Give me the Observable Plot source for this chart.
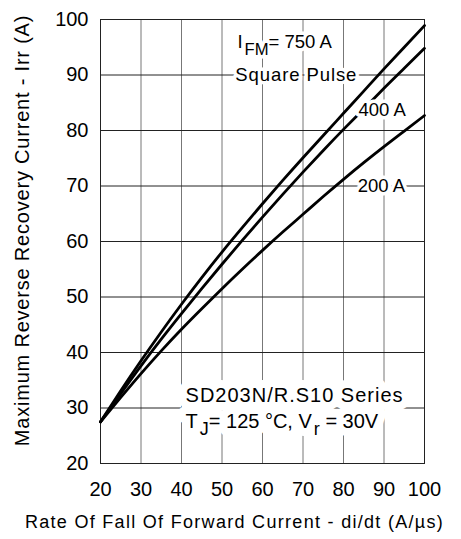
<!DOCTYPE html>
<html><head><meta charset="utf-8">
<script src="https://cdn.jsdelivr.net/npm/d3@7"></script>
<script src="https://cdn.jsdelivr.net/npm/@observablehq/plot@0.6"></script>
<style>
body{margin:0;background:#fff;}
#chart svg{display:block;}
</style></head><body><div id="chart"></div>
<script>
// ---- data ----
const xTicks = [20, 30, 40, 50, 60, 70, 80, 90, 100];
const yTicks = [20, 30, 40, 50, 60, 70, 80, 90, 100];
const diDt   = [20, 25, 30, 35, 40, 45, 50, 55, 60, 65, 70, 75, 80, 85, 90, 95, 100];
const irr750 = [27.5, 33.1, 38.5, 43.7, 48.7, 53.5, 58.1, 62.5, 66.8, 71.0, 75.1, 79.1, 83.1, 87.1, 91.1, 95.0, 98.9];
const irr400 = [27.5, 32.6, 37.6, 42.4, 47.0, 51.5, 55.9, 60.2, 64.4, 68.5, 72.5, 76.4, 80.2, 83.9, 87.6, 91.2, 94.8];
const irr200 = [27.5, 31.9, 36.2, 40.3, 44.2, 47.9, 51.5, 55.0, 58.4, 61.7, 64.9, 68.1, 71.2, 74.2, 77.1, 79.9, 82.7];
const seriesNames = ["750 A", "400 A", "200 A"];
const xTitle = "Rate Of Fall Of Forward Current - di/dt (A/\u00b5s)";
const yTitle = "Maximum Reverse Recovery Current - Irr (A)";
const curveLabels = [
  {text: "IFM= 750 A", x: 53.8, y: 96.0},
  {text: "Square Pulse", x: 53.3, y: 90},
  {text: "400 A", x: 83.7, y: 83.6},
  {text: "200 A", x: 83.5, y: 70}
];
const noteLabels = [
  {text: "SD203N/R.S10 Series", x: 41.0, y: 32.2},
  {text: "TJ= 125 \u00b0C, Vr = 30V", x: 41.0, y: 27.6}
];
// rich-text (subscript) definitions
const richText = {
  "IFM= 750 A": [["I", 0], ["FM", 1], ["= 750 A", 0]],
  "TJ= 125 \u00b0C, Vr = 30V": [["T", 0], ["J", 1], ["= 125 \u00b0C, V", 0], ["r", 1], [" = 30V", 0]]
};

const series = [irr750, irr400, irr200];
const table = [];
series.forEach((vals, si) => vals.forEach((v, i) => table.push({x: diDt[i], y: v, series: seriesNames[si]})));

const font = "'Liberation Sans', Arial, Helvetica, sans-serif";
const lblOpts = {x: "x", y: "y", text: "text", textAnchor: "start"};

const plot = Plot.plot({
  width: 461, height: 539,
  marginLeft: 100, marginRight: 37, marginTop: 19, marginBottom: 76,
  style: {fontFamily: font, background: "white", color: "black"},
  x: {domain: [20, 100]},
  y: {domain: [20, 100]},
  marks: [
    Plot.gridX(xTicks, {stroke: "#777", strokeOpacity: 1, strokeWidth: 1}),
    Plot.gridY(yTicks, {stroke: "#222", strokeOpacity: 1, strokeWidth: 1}),
    Plot.frame({stroke: "#222"}),
    Plot.axisX(xTicks, {tickSize: 0, tickPadding: 18, fontSize: 20, label: null}),
    Plot.axisY(yTicks, {tickSize: 0, tickPadding: 12, fontSize: 20, label: null}),
    Plot.line(table, {x: "x", y: "y", z: "series", stroke: "black", strokeWidth: 2.8, curve: "natural"}),
    // halos (white backgrounds) first, then the text itself
    Plot.text(curveLabels, {...lblOpts, fontSize: 18.5, fill: "white", stroke: "white", strokeWidth: 7}),
    Plot.text(noteLabels, {...lblOpts, fontSize: 20, fill: "white", stroke: "white", strokeWidth: 16}),
    Plot.text(curveLabels, {...lblOpts, fontSize: 18.5, fill: "black"}),
    Plot.text(noteLabels, {...lblOpts, fontSize: 20, fill: "black"}),
    Plot.text([xTitle], {frameAnchor: "bottom", textAnchor: "middle", dy: 64, dx: -28, fontSize: 18, fill: "black"}),
    Plot.text([yTitle], {frameAnchor: "left", textAnchor: "middle", dx: -78, dy: -11, rotate: -90, fontSize: 20, fill: "black"})
  ]
});

document.getElementById("chart").appendChild(plot);

// post-process: subscripts and letter spacing
d3.select(plot).selectAll("text").each(function() {
  const t = this.textContent;
  const sel = d3.select(this);
  if (richText[t]) {
    const parts = richText[t];
    this.textContent = "";
    let shifted = false;
    parts.forEach(([s, sub]) => {
      const ts = sel.append("tspan").text(s);
      if (sub && !shifted) { ts.attr("dy", 7).attr("dx", 2).attr("font-size", "0.9em"); shifted = true; }
      else if (!sub && shifted) { ts.attr("dy", -7); shifted = false; }
    });
  }
  if (t === xTitle) sel.attr("letter-spacing", 1.3);
  if (t === yTitle) sel.attr("letter-spacing", 0.8);
  if (t === "Square Pulse") sel.attr("letter-spacing", 0.9);
  if (t === "SD203N/R.S10 Series") sel.attr("letter-spacing", 1);
});
</script>
</body></html>
